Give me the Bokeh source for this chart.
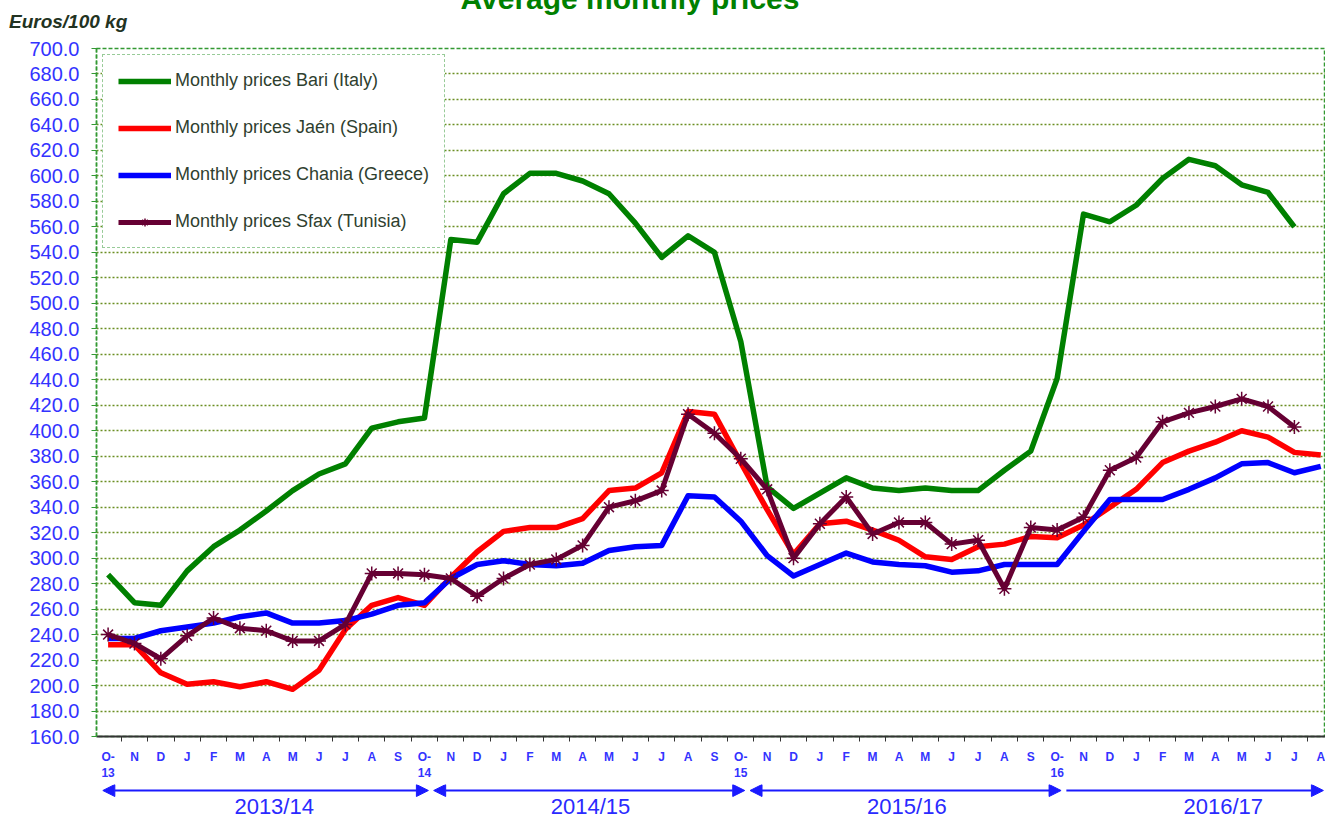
from bokeh.plotting import figure
from bokeh.models import (Range1d, FixedTicker, Legend, LegendItem, Arrow,
                          NormalHead, NumeralTickFormatter, Div)
from bokeh.layouts import column
from bokeh.core.properties import value
from bokeh.embed import file_html
from bokeh.resources import INLINE

nan = float("nan")

# ---------------- data ----------------
months = ["O-\n13", "N", "D", "J", "F", "M", "A", "M", "J", "J", "A", "S",
          "O-\n14", "N", "D", "J", "F", "M", "A", "M", "J", "J", "A", "S",
          "O-\n15", "N", "D", "J", "F", "M", "A", "M", "J", "J", "A", "S",
          "O-\n16", "N", "D", "J", "F", "M", "A", "M", "J", "J", "A"]

bari = [287, 265, 263, 290, 309, 322, 337, 353, 366, 374, 402, 407,
        410, 550, 548, 586, 602, 602, 596, 586, 563, 536, 553, 540,
        470, 356, 339, 351, 363, 355, 353, 355, 353, 353, 369, 384,
        441, 570, 564, 577, 598, 613, 608, 593, 587, 560, nan]

jaen = [232, 232, 210, 201, 203, 199, 203, 197, 212, 244, 263, 269,
        263, 285, 305, 321, 324, 324, 331, 353, 355, 367, 415, 413,
        375, 338, 303, 327, 329, 322, 314, 301, 299, 309, 311, 317,
        316, 326, 340, 354, 375, 384, 391, 400, 395, 383, 381]

chania = [237, 237, 243, 246, 249, 254, 257, 249, 249, 251, 256, 263,
          265, 284, 295, 298, 295, 294, 296, 306, 309, 310, 349, 348,
          329, 302, 286, 295, 304, 297, 295, 294, 289, 290, 295, 295,
          295, 321, 346, 346, 346, 354, 363, 374, 375, 367, 372]

sfax = [240, 233, 221, 239, 253, 245, 243, 235, 235, 248, 288, 288,
        287, 284, 270, 284, 295, 299, 310, 340, 345, 353, 413, 398,
        378, 354, 300, 327, 348, 319, 328, 328, 311, 314, 276, 324,
        322, 332, 369, 379, 407, 414, 419, 425, 419, 403, nan]

seasons = ["2013/14", "2014/15", "2015/16", "2016/17"]
season_first = [0, 12, 24, 36]

series_names = ["Monthly prices Bari (Italy)", "Monthly prices Jaén (Spain)",
                "Monthly prices Chania (Greece)", "Monthly prices Sfax (Tunisia)"]

title_text = "Average monthly prices"
unit_text = "Euros/100 kg"

y_ticks = list(range(160, 701, 20))

# ---------------- styles ----------------
FONT = "Liberation Sans"
BLUE_TXT = "#3333ff"
GREEN_B = "#339933"
W = 1325

# ---------------- header (title cut at top, unit label) ----------------
header_html = (
    "<div style=\"position:relative;width:%dpx;height:36px;overflow:hidden;"
    "font-family:'Liberation Sans', Arial, sans-serif;\">"
    "<div style=\"position:absolute;left:0px;top:-16px;width:1260px;text-align:center;"
    "font-size:30px;line-height:30px;font-weight:bold;color:#008000;white-space:nowrap;\">%s</div>"
    "<div style=\"position:absolute;left:9px;top:12px;font-size:19px;line-height:19px;"
    "font-weight:bold;font-style:italic;color:#223322;white-space:nowrap;\">%s</div>"
    "</div>" % (W, title_text, unit_text)
)
header = Div(text=header_html, width=W, height=36, margin=(0, 0, 0, 0))

# ---------------- main figure ----------------
x = list(range(len(months)))

p = figure(width=W, height=748, x_range=Range1d(-0.44, 46.18),
           y_range=Range1d(160, 700), output_backend="svg", toolbar_location=None,
           min_border_left=96, min_border_right=0, min_border_top=12,
           min_border_bottom=48)
p.background_fill_color = "white"
p.border_fill_color = "white"
p.outline_line_color = GREEN_B
p.outline_line_dash = "4 2"
p.outline_line_width = 1.5

# y axis
p.yaxis.ticker = FixedTicker(ticks=y_ticks)
p.yaxis.formatter = NumeralTickFormatter(format="0.0")
p.yaxis.major_label_text_color = BLUE_TXT
p.yaxis.major_label_text_font = FONT
p.yaxis.major_label_text_font_size = "20px"
p.yaxis.axis_line_color = GREEN_B
p.yaxis.axis_line_dash = "4 2"
p.yaxis.axis_line_width = 1.5
p.yaxis.major_tick_line_color = GREEN_B
p.yaxis.major_tick_out = 5
p.yaxis.major_tick_in = 0
p.yaxis.minor_tick_line_color = None
p.yaxis.major_label_standoff = 12

# x axis
p.xaxis.ticker = FixedTicker(ticks=x, minor_ticks=[i - 0.5 for i in range(len(months) + 1)])
p.xaxis.major_label_overrides = {i: m for i, m in enumerate(months)}
p.xaxis.major_tick_line_color = None
p.xaxis.major_tick_out = 0
p.xaxis.major_tick_in = 0
p.xaxis.minor_tick_line_color = "#333333"
p.xaxis.minor_tick_out = 5
p.xaxis.minor_tick_in = 0
p.xaxis.axis_line_color = "#333333"
p.xaxis.axis_line_width = 2
p.xaxis.major_label_text_color = BLUE_TXT
p.xaxis.major_label_text_font = FONT
p.xaxis.major_label_text_font_size = "12px"
p.xaxis.major_label_text_font_style = "bold"
p.xaxis.major_label_standoff = 8

# grid
p.xgrid.visible = False
p.ygrid.ticker = FixedTicker(ticks=y_ticks)
p.ygrid.grid_line_color = "#6b8e23"
p.ygrid.grid_line_dash = "2 2"
p.ygrid.grid_line_width = 1.5

# series
r_bari = p.line(x, bari, line_color="#008000", line_width=5.5, line_join="round")
r_jaen = p.line(x, jaen, line_color="#ff0000", line_width=5.5, line_join="round")
r_chan = p.line(x, chania, line_color="#0000ff", line_width=5.5, line_join="round")
r_sfax = p.line(x, sfax, line_color="#660033", line_width=5, line_join="round")
r_sfax_m = p.scatter(x, sfax, marker="asterisk", size=14, line_color="#660033",
                     line_width=1.5)

legend = Legend(items=[
    LegendItem(label=series_names[0], renderers=[r_bari]),
    LegendItem(label=series_names[1], renderers=[r_jaen]),
    LegendItem(label=series_names[2], renderers=[r_chan]),
    LegendItem(label=series_names[3], renderers=[r_sfax, r_sfax_m]),
], location="top_left")
legend.margin = 6
legend.padding = 15
legend.spacing = 26
legend.glyph_width = 53
legend.glyph_height = 20
legend.label_height = 20
legend.label_standoff = 4
legend.label_text_font = FONT
legend.label_text_font_size = "18px"
legend.label_text_color = "#2f3f2f"
legend.border_line_color = GREEN_B
legend.border_line_dash = "3 2"
legend.border_line_width = 1.5
legend.background_fill_color = "white"
legend.background_fill_alpha = 1.0
p.add_layout(legend)

# ---------------- season strip ----------------
p2 = figure(width=W, height=36, x_range=p.x_range, y_range=Range1d(36, 0),
            output_backend="svg", toolbar_location=None,
            x_axis_location=None, y_axis_location=None,
            min_border_left=96, min_border_right=0, min_border_top=0, min_border_bottom=0)
p2.outline_line_color = None
p2.grid.visible = False
p2.background_fill_color = "white"
p2.border_fill_color = "white"

ARROW_C = "#1a1aff"
for k, f in enumerate(season_first):
    start = -0.2 if k == 0 else f + 0.35
    end = min(f + 12.15, 46.1)
    head_start = NormalHead(size=12, fill_color=ARROW_C, line_color=ARROW_C) if k < 3 else None
    p2.add_layout(Arrow(x_start=start, y_start=6, x_end=end, y_end=6,
                        start=head_start,
                        end=NormalHead(size=12, fill_color=ARROW_C, line_color=ARROW_C),
                        line_color=ARROW_C, line_width=2))

p2.text(x=[f + 6.3 for f in season_first], y=[22] * len(seasons), text=seasons,
        text_align="center", text_baseline="middle", text_font=value(FONT),
        text_font_size="22px", text_color="#2a2aff")

layout = column(header, p, p2, spacing=0)
open("out.html", "w").write(file_html(layout, INLINE))
